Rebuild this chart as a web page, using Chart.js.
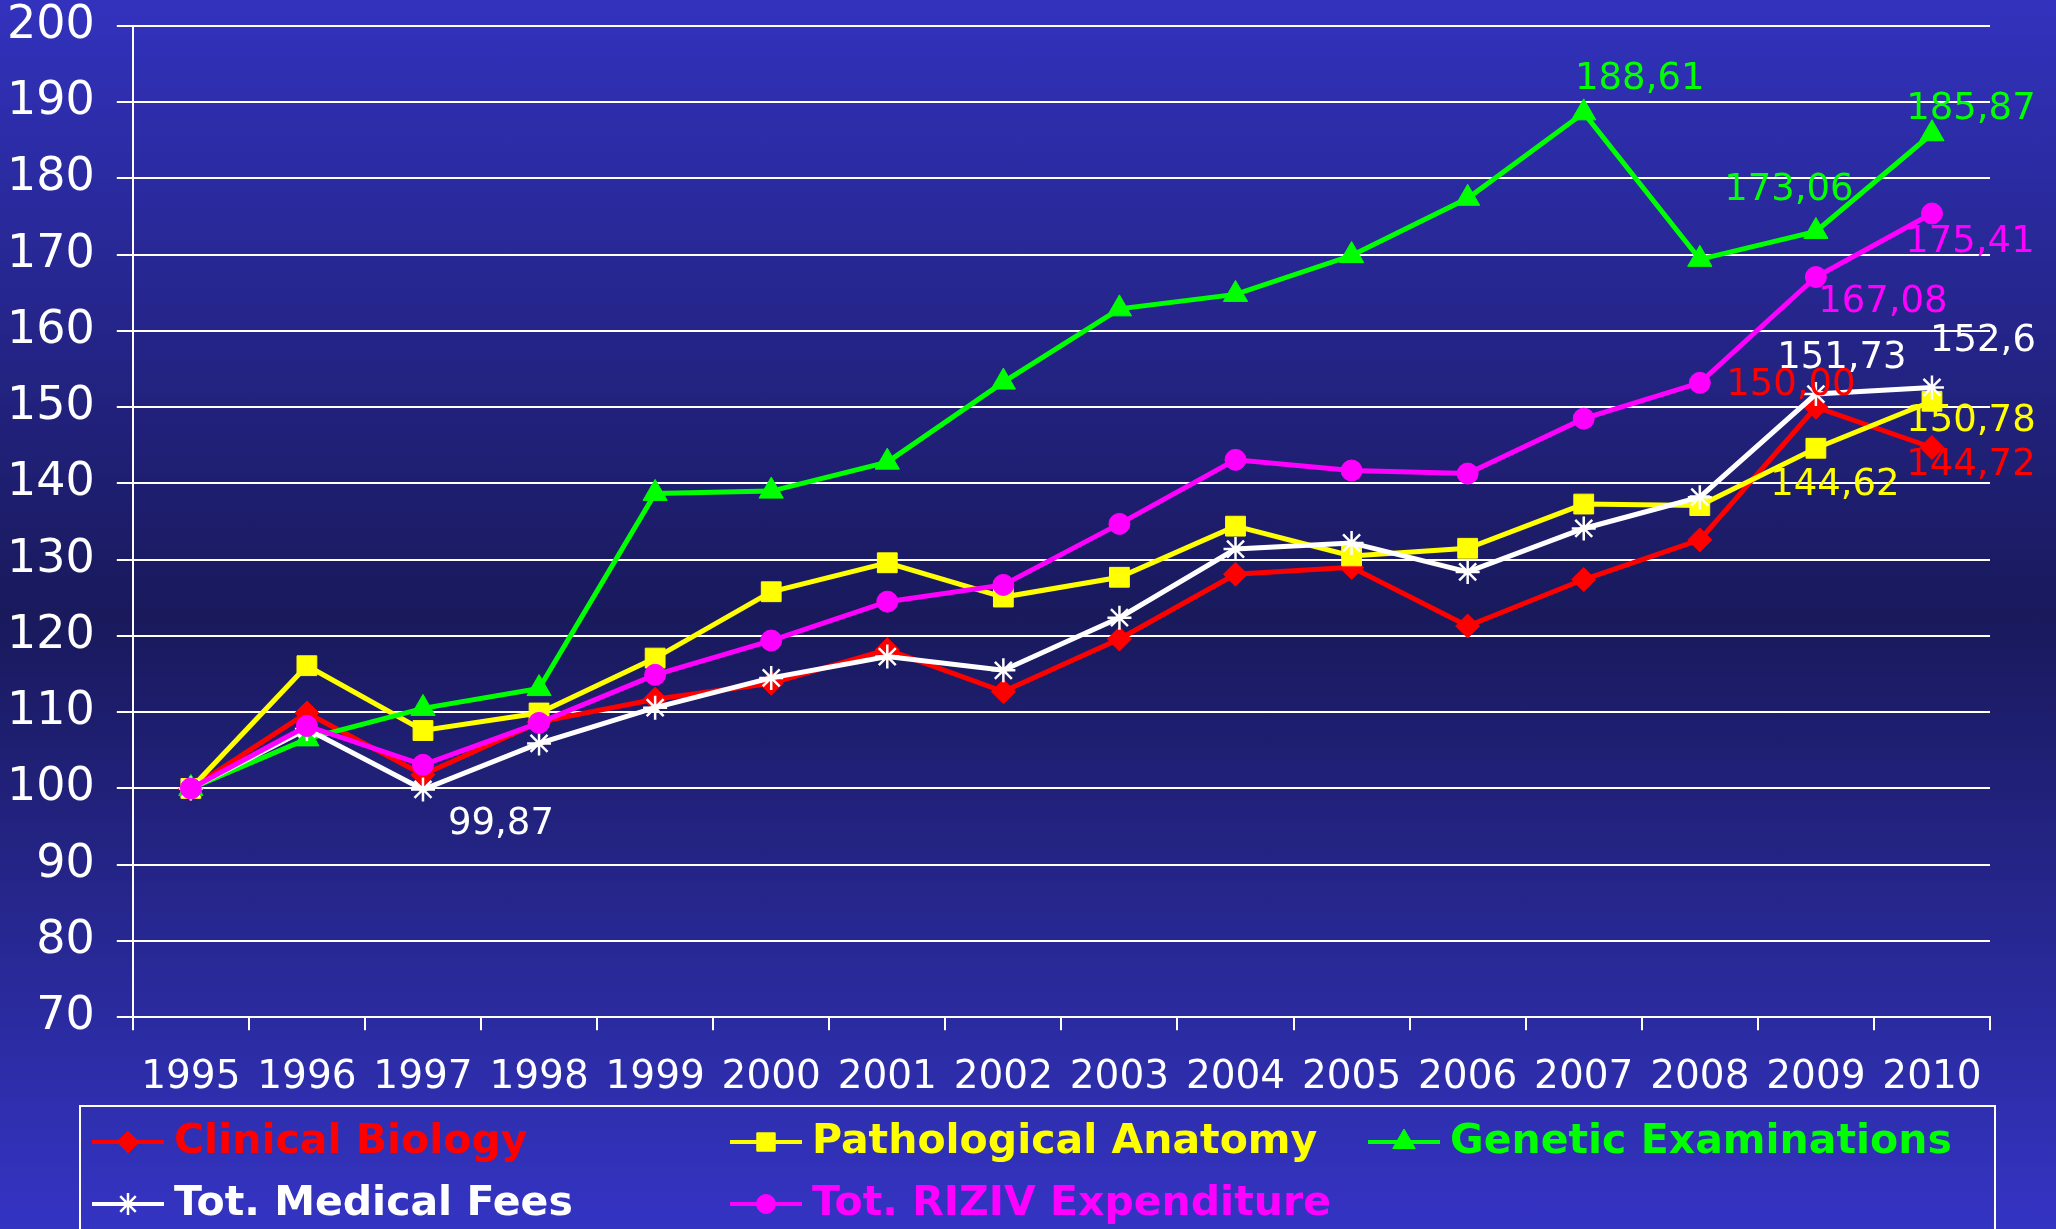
<!DOCTYPE html>
<html>
<head>
<meta charset="utf-8">
<script src="https://cdn.jsdelivr.net/npm/chart.js@4.4.1/dist/chart.umd.min.js"></script>
<style>
  html, body { margin: 0; padding: 0; }
  body {
    width: 2056px; height: 1229px; overflow: hidden;
    background: linear-gradient(to bottom, #3232be 0%, #19195c 50%, #3434c4 100%);
  }
</style>
</head>
<body>
<canvas id="chart" width="2056" height="1229"></canvas>
<script>
/* data */
const years = ['1995','1996','1997','1998','1999','2000','2001','2002','2003','2004','2005','2006','2007','2008','2009','2010'];
const clinicalBiology     = [100, 109.9, 101.8, 108.7, 111.7, 113.8, 118.2, 112.7, 119.6, 128.1, 129.0, 121.3, 127.4, 132.6, 150.00, 144.72];
const pathologicalAnatomy = [100, 116.1, 107.6, 109.9, 117.1, 125.8, 129.6, 125.1, 127.7, 134.4, 130.5, 131.5, 137.3, 137.1, 144.62, 150.78];
const geneticExaminations = [100, 106.5, 110.5, 113.1, 138.7, 139.0, 142.8, 153.3, 162.9, 164.8, 169.9, 177.4, 188.61, 169.4, 173.06, 185.87];
const medicalFees         = [100, 107.8, 99.87, 105.9, 110.6, 114.5, 117.3, 115.5, 122.4, 131.4, 132.2, 128.4, 134.1, 138.2, 151.73, 152.6];
const rizivExpenditure    = [100, 108.2, 103.1, 108.6, 114.9, 119.4, 124.5, 126.7, 134.7, 143.1, 141.7, 141.3, 148.5, 153.2, 167.08, 175.41];

// value labels shown next to some points (index -> text)
const clinicalLabels  = { 14: '150,00', 15: '144,72' };
const pathoLabels     = { 14: '144,62', 15: '150,78' };
const geneticLabels   = { 12: '188,61', 14: '173,06', 15: '185,87' };
const feesLabels      = { 2: '99,87', 14: '151,73', 15: '152,6' };
const rizivLabels     = { 14: '167,08', 15: '175,41' };

const yMin = 70, yMax = 200, yStep = 10;

/* label placement (px offsets from the point) */
const labelOffsets = {
  clinical: { 14: [-25, -22], 15: [39, 18] },
  patho:    { 14: [19, 37],  15: [39, 20] },
  genetic:  { 12: [56, -33], 14: [-27, -41], 15: [39, -24] },
  fees:     { 2: [78, 35],   14: [26, -36],  15: [51, -46] },
  riziv:    { 14: [67, 25],  15: [38, 29] },
};

Chart.defaults.font.family = '"DejaVu Sans", Verdana, sans-serif';

function series(label, data, color, style, radius, order, labels, offsets) {
  const stroked = style === 'star';
  return {
    label, data, order,
    borderColor: color,
    borderWidth: 5,
    pointStyle: style,
    pointRadius: radius,
    pointHoverRadius: radius,
    pointBackgroundColor: color,
    pointBorderColor: color,
    pointBorderWidth: stroked ? 2.5 : 1,
    tension: 0,
    valueLabels: labels,
    labelOffsets: offsets,
  };
}

/* Value labels */
const valueLabelPlugin = {
  id: 'valueLabels',
  afterDatasetsDraw(chart) {
    const ctx = chart.ctx;
    ctx.save();
    ctx.font = '37px "DejaVu Sans"';
    ctx.textAlign = 'center';
    ctx.textBaseline = 'middle';
    chart.data.datasets.forEach((ds, i) => {
      const meta = chart.getDatasetMeta(i);
      Object.keys(ds.valueLabels).forEach(idx => {
        const pt = meta.data[idx];
        const off = ds.labelOffsets[idx];
        ctx.fillStyle = ds.borderColor;
        ctx.fillText(ds.valueLabels[idx], pt.x + off[0], pt.y + off[1]);
      });
    });
    ctx.restore();
  }
};

/* Boxed legend, 3 columns */
const boxLegendPlugin = {
  id: 'boxLegend',
  afterDraw(chart) {
    const ctx = chart.ctx;
    const left = 80, top = 1106, colW = 638, rowH = 62;
    ctx.save();
    ctx.strokeStyle = '#ffffff';
    ctx.lineWidth = 2;
    ctx.strokeRect(left, top, 1915, 200);
    ctx.font = 'bold 41px "DejaVu Sans"';
    ctx.textBaseline = 'middle';
    chart.data.datasets.forEach((ds, i) => {
      const x = left + 12 + (i % 3) * colW;
      const y = top + 36 + Math.floor(i / 3) * rowH;
      ctx.strokeStyle = ds.borderColor;
      ctx.lineWidth = 4;
      ctx.beginPath();
      ctx.moveTo(x, y);
      ctx.lineTo(x + 72, y);
      ctx.stroke();
      ctx.fillStyle = ds.pointBackgroundColor;
      ctx.lineWidth = ds.pointBorderWidth;
      Chart.helpers.drawPoint(ctx, {
        pointStyle: ds.pointStyle, radius: ds.pointRadius - 1, rotation: 0, borderWidth: ds.pointBorderWidth
      }, x + 36, y);
      ctx.fillStyle = ds.borderColor;
      ctx.fillText(ds.label, x + 82, y);
    });
    ctx.restore();
  }
};

new Chart(document.getElementById('chart'), {
  type: 'line',
  data: {
    labels: years,
    datasets: [
      series('Clinical Biology', clinicalBiology, '#ff0000', 'rectRot', 12, 5, clinicalLabels, labelOffsets.clinical),
      series('Pathological Anatomy', pathologicalAnatomy, '#ffff00', 'rect', 14, 4, pathoLabels, labelOffsets.patho),
      series('Genetic Examinations', geneticExaminations, '#00ff00', 'triangle', 14, 3, geneticLabels, labelOffsets.genetic),
      series('Tot. Medical Fees', medicalFees, '#ffffff', 'star', 12, 2, feesLabels, labelOffsets.fees),
      series('Tot. RIZIV Expenditure', rizivExpenditure, '#ff00ff', 'circle', 10.5, 1, rizivLabels, labelOffsets.riziv),
    ]
  },
  options: {
    responsive: false,
    animation: false,
    layout: { padding: { left: -15, top: 0, right: 66, bottom: 104 } },
    plugins: { legend: { display: false }, tooltip: { enabled: false } },
    scales: {
      x: {
        offset: true,
        ticks: { color: '#ffffff', font: { size: 39 }, padding: 24, maxRotation: 0, autoSkip: false },
        grid: { offset: true, drawOnChartArea: false, color: '#ffffff', lineWidth: 2, tickLength: 13 },
        border: { color: '#ffffff', width: 2 }
      },
      y: {
        min: yMin, max: yMax,
        ticks: { stepSize: yStep, color: '#ffffff', font: { size: 46 }, padding: 22 },
        grid: { color: '#ffffff', lineWidth: 2, tickLength: 16 },
        border: { color: '#ffffff', width: 2 },
        afterFit(scale) { scale.paddingTop = 26; }
      }
    }
  },
  plugins: [valueLabelPlugin, boxLegendPlugin]
});
</script>
</body>
</html>
